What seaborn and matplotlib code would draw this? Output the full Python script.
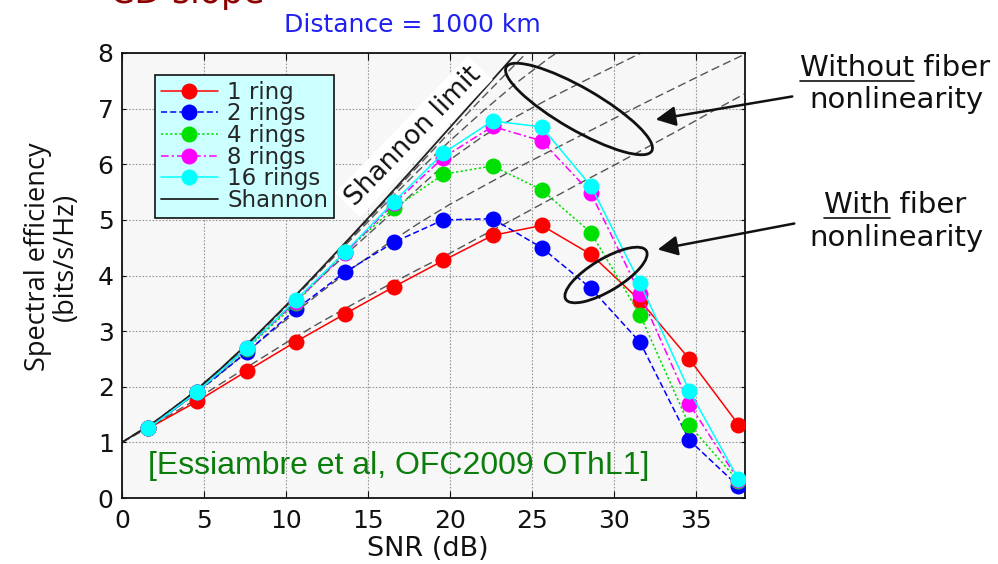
import numpy as np
import pandas as pd
import matplotlib
matplotlib.use("Agg")
import matplotlib.pyplot as plt
import seaborn as sns
from matplotlib.lines import Line2D
from matplotlib.patches import Ellipse, FancyArrowPatch

# ---- data -------------------------------------------------------------
snr_db = [1.6, 4.6, 7.6, 10.6, 13.6, 16.6, 19.6, 22.6, 25.6, 28.6, 31.6, 34.6, 37.6]
se_1ring = [1.25, 1.74, 2.28, 2.81, 3.31, 3.80, 4.27, 4.72, 4.90, 4.38, 3.55, 2.50, 1.32]
se_2rings = [1.25, 1.90, 2.62, 3.39, 4.06, 4.60, 5.00, 5.02, 4.50, 3.77, 2.80, 1.04, 0.21]
se_4rings = [1.25, 1.90, 2.68, 3.50, 4.43, 5.21, 5.82, 5.97, 5.54, 4.77, 3.29, 1.31, 0.30]
se_8rings = [1.25, 1.90, 2.70, 3.53, 4.40, 5.30, 6.12, 6.68, 6.42, 5.48, 3.67, 1.69, 0.32]
se_16rings = [1.25, 1.91, 2.70, 3.56, 4.42, 5.33, 6.20, 6.78, 6.67, 5.61, 3.86, 1.93, 0.34]

# linear-channel (no nonlinearity) curves and the Shannon limit
snr_grid = [0, 2, 4, 6, 8, 10, 12, 14, 16, 18, 20, 22, 24, 26, 28, 30, 32, 34, 36, 38]
lin_1ring = [1.0, 1.33, 1.68, 2.05, 2.42, 2.79, 3.14, 3.47, 3.79, 4.10, 4.40, 4.72, 5.03, 5.35, 5.67, 5.98, 6.30, 6.62, 6.95, 7.27]
lin_2rings = [1.0, 1.36, 1.78, 2.24, 2.72, 3.20, 3.67, 4.12, 4.53, 4.92, 5.28, 5.60, 5.92, 6.22, 6.52, 6.82, 7.12, 7.41, 7.70, 7.98]
lin_4rings = [1.0, 1.37, 1.80, 2.30, 2.83, 3.38, 3.93, 4.47, 5.00, 5.55, 6.08, 6.50, 6.85, 7.17, 7.47, 7.76, 8.05, None, None, None]
lin_8rings = [1.0, 1.37, 1.81, 2.31, 2.86, 3.44, 4.05, 4.66, 5.27, 5.86, 6.42, 6.95, 7.45, 7.90, 8.30, None, None, None, None, None]
lin_16rings = [1.0, 1.37, 1.81, 2.32, 2.87, 3.45, 4.07, 4.69, 5.32, 5.95, 6.58, 7.20, 7.80, 8.40, None, None, None, None, None, None]
shannon = [1.0, 1.37, 1.81, 2.32, 2.87, 3.46, 4.08, 4.71, 5.35, 6.00, 6.66, 7.32, 7.98, 8.64, None, None, None, None, None, None]

labels = ["1 ring", "2 rings", "4 rings", "8 rings", "16 rings"]
x_ticks = [0, 5, 10, 15, 20, 25, 30, 35]
y_ticks = [0, 1, 2, 3, 4, 5, 6, 7, 8]

# ---- figure -----------------------------------------------------------
sns.set_style("white")
plt.rcParams["font.family"] = ["DejaVu Sans"]

W, H = 998, 564
fig = plt.figure(figsize=(W / 100, H / 100), dpi=100)
ax = fig.add_axes([122 / W, 1 - 498 / H, (745 - 122) / W, (498 - 53) / H])
ax.set_facecolor("#f7f7f7")


def px(x, y):
    return (x / W, 1 - y / H)


# dashed linear-channel curves
for arr in [lin_1ring, lin_2rings, lin_4rings, lin_8rings, lin_16rings]:
    d = pd.DataFrame({"snr": snr_grid, "se": arr}).dropna()
    sns.lineplot(data=d, x="snr", y="se", ax=ax, color="#555555", lw=1.0,
                 dashes=False, linestyle=(0, (6, 3)), sort=False, zorder=2)

d = pd.DataFrame({"snr": snr_grid, "se": shannon}).dropna()
sns.lineplot(data=d, x="snr", y="se", ax=ax, color="#222222", lw=1.3, sort=False, zorder=2)

styles = [
    ("#ff0000", "-"),
    ("#0000ff", (0, (4, 2))),
    ("#00e000", (0, (1.5, 1.5))),
    ("#ff00ff", (0, (5, 2, 1.5, 2))),
    ("#00ffff", "-"),
]
series = [se_1ring, se_2rings, se_4rings, se_8rings, se_16rings]
for vals, (c, ls) in zip(series, styles):
    sns.lineplot(x=snr_db, y=vals, ax=ax, color=c, linestyle=ls, lw=1.1,
                 marker="o", markersize=11.5, markeredgewidth=0, sort=False, zorder=3)

ax.set_xlim(0, 38)
ax.set_ylim(0, 8)
ax.set_xticks(x_ticks)
ax.set_yticks(y_ticks)
ax.grid(True, color="#999999", linestyle=(0, (1.5, 1.5)), lw=0.8)
ax.set_axisbelow(True)
for s in ax.spines.values():
    s.set_color("#111111")
    s.set_linewidth(1.3)
ax.tick_params(axis="x", which="both", direction="in", top=True, bottom=True,
               length=5, labelsize=18, pad=8, colors="#111111")
ax.tick_params(axis="y", which="both", direction="out", left=True, length=3,
               labelsize=18, pad=6, colors="#111111")
ax.tick_params(axis="y", right=True, direction="in")
ax.set_xlabel("")
ax.set_ylabel("")

# legend
handles = [Line2D([0], [0], color=c, linestyle=ls, lw=1.1, marker="o",
                  markersize=11.5, markeredgewidth=0) for c, ls in styles]
handles.append(Line2D([0], [0], color="#222222", lw=1.3))
leg = ax.legend(handles, labels + ["Shannon"], loc="upper left",
                bbox_to_anchor=((155 - 122) / 623, (498 - 75) / 445),
                borderaxespad=0, fontsize=16.5, labelspacing=-0.06,
                handlelength=2.5, handletextpad=0.4, borderpad=0.25,
                frameon=True, fancybox=False, framealpha=1)
leg.get_frame().set_facecolor("#ccffff")
leg.get_frame().set_edgecolor("#111111")
leg.get_frame().set_linewidth(1.2)

# Shannon limit label
ax.text(17.8, 6.5, "Shannon limit", rotation=46, fontsize=19, ha="center",
        va="center", rotation_mode="anchor", color="#111111", zorder=4,
        bbox=dict(facecolor="white", edgecolor="none", pad=3))

# citation
ax.text(1.6, 0.58, "[Essiambre et al, OFC2009 OThL1]", fontsize=23,
        family=["Liberation Sans"], color="#0a7d0a", ha="left", va="center", zorder=4)

# axis labels and titles
fig.text(*px(428, 549), "SNR (dB)", fontsize=19.5, ha="center", va="center", color="#111111")
fig.text(*px(52, 257), "Spectral efficiency\n(bits/s/Hz)", fontsize=19.5, rotation=90,
         ha="center", va="center", multialignment="center", linespacing=1.0,
         family=["Open Sans"], color="#111111")
fig.text(*px(412, 25), "Distance = 1000 km", fontsize=18, ha="center", va="center",
         color="#2020f0")
fig.text(*px(110, 3), "CD slope", fontsize=25, ha="left", va="baseline", color="#8b0000")

# ellipses marking the two groups
tr = fig.dpi_scale_trans


def pin(x, y):
    return (x / 100, (H - y) / 100)


fig.add_artist(Ellipse(pin(579, 109), 168 / 100, 42 / 100, angle=-30,
                       transform=tr, fill=False, lw=2, ec="#111111"))
fig.add_artist(Ellipse(pin(606, 275), 94 / 100, 32 / 100, angle=31,
                       transform=tr, fill=False, lw=2, ec="#111111"))

# annotation arrows
for (x0, y0), (x1, y1) in [((795, 96), (653, 120)), ((797, 223), (655, 250))]:
    fig.add_artist(FancyArrowPatch(pin(x0, y0), pin(x1, y1), transform=tr,
                                   arrowstyle="-|>,head_length=0.6,head_width=0.3",
                                   mutation_scale=20, lw=1.8, color="#111111"))

# side annotations, with the first word underlined
notes = [("Without", " fiber", 68, 100), ("With", " fiber", 205, 238)]
fig.canvas.draw()
renderer = fig.canvas.get_renderer()
FS = 21
for word, rest, y1, y2 in notes:
    t = fig.text(*px(895, y1), word + rest, fontsize=FS, ha="center", va="center",
                 color="#111111")
    fig.text(*px(897, y2), "nonlinearity", fontsize=FS, ha="center", va="center",
             color="#111111")
    bb = t.get_window_extent(renderer)
    tmp = fig.text(0, 0, word, fontsize=FS)
    wb = tmp.get_window_extent(renderer)
    tmp.remove()
    yline = bb.y0 + 1
    fig.add_artist(Line2D([bb.x0 / W, (bb.x0 + wb.width) / W],
                          [yline / H, yline / H], transform=fig.transFigure,
                          color="#111111", lw=1.2))

fig.savefig("out.png", dpi=100)
